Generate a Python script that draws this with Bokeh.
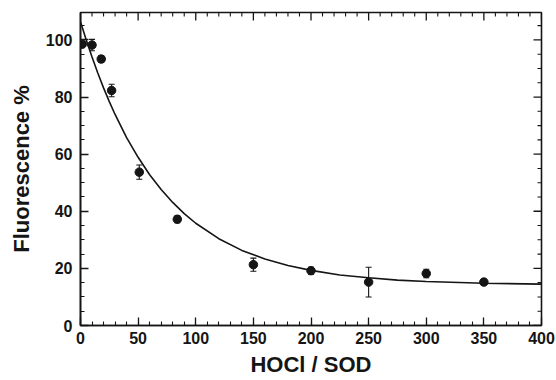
from bokeh.plotting import figure
from bokeh.models import (ColumnDataSource, Whisker, TeeHead, LinearAxis,
                          SingleIntervalTicker, Range1d)
from bokeh.embed import file_html
from bokeh.resources import INLINE

# measured data (HOCl/SOD ratio vs fluorescence %)
ratio = [1.5, 10, 18, 27, 51, 84, 150, 200, 250, 300, 350]
fluor = [98.5, 98.2, 93.3, 82.3, 53.7, 37.2, 21.3, 19.2, 15.2, 18.2, 15.2]
err = [0.6, 2.0, 1.2, 2.2, 2.5, 1.2, 2.3, 1.2, 5.2, 1.5, 1.0]

# fitted curve
fit_x = [0, 5, 10, 15, 20, 25, 30, 40, 50, 60, 70, 80, 90, 100, 120, 140,
         160, 180, 200, 225, 250, 275, 300, 350, 400]
fit_y = [106.4, 100.0, 94.0, 88.4, 83.2, 78.4, 73.9, 65.8, 58.9, 52.8, 47.6,
         43.1, 39.2, 35.8, 30.4, 26.3, 23.3, 21.0, 19.3, 17.7, 16.7, 15.9,
         15.4, 14.8, 14.5]

x_label = "HOCl / SOD"
y_label = "Fluorescence %"

X_MAX, Y_MAX = 400, 109.6
X_MAJOR, X_MINOR = 50, 10
Y_MAJOR, Y_MINOR = 20, 5

INK = "#151515"
FONT = "Liberation Sans"

p = figure(width=556, height=380, output_backend="svg", toolbar_location=None,
           x_range=Range1d(0, X_MAX), y_range=Range1d(0, Y_MAX),
           min_border_left=80, min_border_right=15, min_border_top=12,
           min_border_bottom=55, x_axis_type=None, y_axis_type=None)
p.xgrid.visible = False
p.ygrid.visible = False
p.outline_line_color = INK
p.outline_line_width = 1.6
p.background_fill_color = "white"
p.border_fill_color = "white"

def style(ax):
    ax.axis_line_color = INK
    ax.axis_line_width = 1.6
    ax.major_tick_line_color = INK
    ax.minor_tick_line_color = INK
    ax.major_tick_line_width = 1.3
    ax.minor_tick_line_width = 1.1
    ax.major_tick_in = 8
    ax.major_tick_out = 0
    ax.minor_tick_in = 4
    ax.minor_tick_out = 0
    ax.major_label_text_font = FONT
    ax.major_label_text_font_style = "bold"
    ax.major_label_text_font_size = "16px"
    ax.major_label_text_color = INK
    ax.axis_label_text_font = FONT
    ax.axis_label_text_font_style = "bold"
    ax.axis_label_text_font_size = "22px"
    ax.axis_label_text_color = INK

xb = LinearAxis(ticker=SingleIntervalTicker(interval=X_MAJOR, num_minor_ticks=X_MAJOR // X_MINOR),
                axis_label=x_label)
style(xb)
xb.major_label_standoff = 6
xb.axis_label_standoff = 5
p.add_layout(xb, "below")

yl = LinearAxis(ticker=SingleIntervalTicker(interval=Y_MAJOR, num_minor_ticks=Y_MAJOR // Y_MINOR),
                axis_label=y_label)
style(yl)
yl.major_label_standoff = 8
yl.axis_label_standoff = 9
p.add_layout(yl, "left")

# mirrored inward ticks on the top and right edges (half of each dash is clipped by the frame)
top_major = list(range(0, X_MAX + 1, X_MAJOR))
top_minor = [v for v in range(0, X_MAX + 1, X_MINOR) if v % X_MAJOR]
right_major = list(range(0, int(Y_MAX) + 1, Y_MAJOR))
right_minor = [v for v in range(0, int(Y_MAX) + 1, Y_MINOR) if v % Y_MAJOR]

p.scatter(top_major, [Y_MAX] * len(top_major), marker="dash", size=16,
          angle=1.5707963, line_color=INK, line_width=1.3)
p.scatter(top_minor, [Y_MAX] * len(top_minor), marker="dash", size=8,
          angle=1.5707963, line_color=INK, line_width=1.1)
p.scatter([X_MAX] * len(right_major), right_major, marker="dash", size=16,
          line_color=INK, line_width=1.3)
p.scatter([X_MAX] * len(right_minor), right_minor, marker="dash", size=8,
          line_color=INK, line_width=1.1)

lo = [f - e for f, e in zip(fluor, err)]
hi = [f + e for f, e in zip(fluor, err)]
src = ColumnDataSource(dict(x=ratio, y=fluor, lo=lo, hi=hi))

p.line(fit_x, fit_y, line_color=INK, line_width=1.6)

wh = Whisker(base="x", lower="lo", upper="hi", source=src,
             line_color=INK, line_width=1.1,
             upper_head=TeeHead(size=6, line_color=INK, line_width=1.1),
             lower_head=TeeHead(size=6, line_color=INK, line_width=1.1))
p.add_layout(wh)

p.scatter("x", "y", source=src, size=8.5, marker="circle",
          fill_color=INK, line_color=INK)

open("out.html", "w").write(file_html(p, INLINE))
